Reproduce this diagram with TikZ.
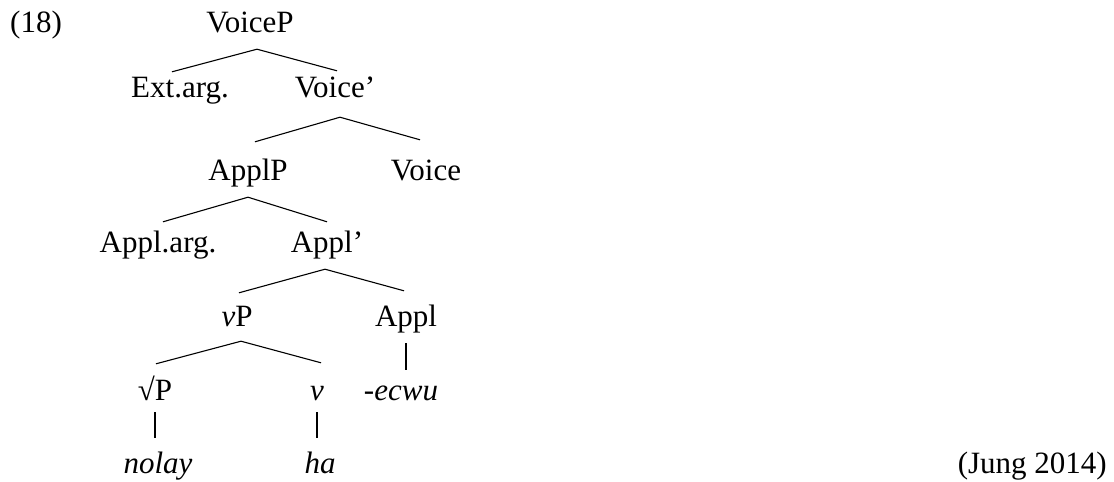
\documentclass[tikz,border=0pt]{standalone}
\usepackage{fontspec}
\setmainfont{Liberation Serif}
\newcommand{\treefont}{\fontsize{31}{37}\selectfont}
\tikzset{
  cat/.style={anchor=base, inner sep=0pt, text height=30pt, text depth=17pt, font=\treefont},
  word/.style={cat, font=\treefont\itshape},
  branch/.style={line width=1.1pt, black},
}

\begin{document}
\begin{tikzpicture}[x=1pt, y=1pt]
  \useasboundingbox (0,0) rectangle (1114,-482);
  % example number and source
  \node[anchor=base west, inner sep=0pt, font=\treefont] (exno) at (10,-32) {(18)};
  \node[anchor=base east, inner sep=0pt, font=\treefont] (src) at (1107,-473) {(Jung 2014)};
  % categories
  \node[cat] (VoiceP) at (250,-32) {VoiceP};
  \node[cat] (ExtArg) at (180,-97) {Ext.arg.};
  \node[cat] (Voicebar) at (335,-97) {Voice’};
  \node[cat] (ApplP) at (248,-180) {ApplP};
  \node[cat] (Voice) at (426,-180) {Voice};
  \node[cat] (ApplArg) at (158,-252) {Appl.arg.};
  \node[cat] (Applbar) at (327,-252) {Appl’};
  \node[cat] (vP) at (237,-326) {\textit{v}P};
  \node[cat] (Appl) at (406,-326) {Appl};
  \node[cat] (rootP) at (155,-400) {√P};
  \node[word] (vhead) at (317,-400) {v};
  \node[word] (ecwu) at (401,-400) {-ecwu};
  \node[word] (nolay) at (158,-473) {nolay};
  \node[word] (ha) at (320,-473) {ha};
  % branches
  \draw[branch] ([xshift=-8pt,yshift=-5pt]ExtArg.north) -- ([xshift=7pt]VoiceP.south)
    -- ([xshift=2pt,yshift=-4pt]Voicebar.north);
  \draw[branch] ([xshift=7pt,yshift=8pt]ApplP.north) -- ([xshift=5pt,yshift=-3pt]Voicebar.south)
    -- ([xshift=-6pt,yshift=10pt]Voice.north);
  \draw[branch] ([xshift=5pt]ApplArg.north) -- (ApplP.south) -- (Applbar.north);
  \draw[branch] ([xshift=2pt,yshift=3pt]vP.north) -- ([xshift=-2pt]Applbar.south)
    -- ([xshift=-2pt,yshift=5pt]Appl.north);
  \draw[branch] ([xshift=1pt,yshift=6pt]rootP.north) -- ([xshift=4pt,yshift=2pt]vP.south)
    -- ([xshift=4pt,yshift=7pt]vhead.north);
  \draw[branch] (Appl.south) -- (Appl.south |- ecwu.north);
  \draw[branch] ([yshift=5pt]rootP.south) -- ([yshift=5pt]rootP.south |- nolay.north);
  \draw[branch] ([yshift=5pt]vhead.south) -- ([yshift=5pt]vhead.south |- ha.north);
\end{tikzpicture}
\end{document}
